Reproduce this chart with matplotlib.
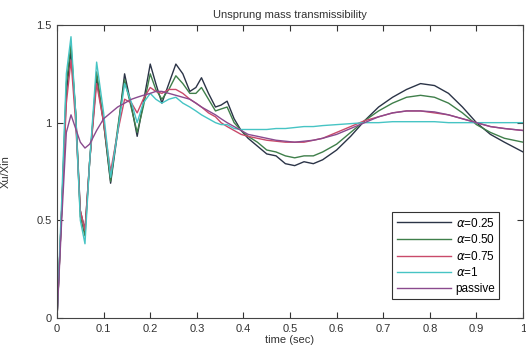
import numpy as np
import matplotlib.pyplot as plt

plt.rcParams['font.family'] = ['Liberation Sans', 'DejaVu Sans']

# time samples
t = [0, 0.01, 0.02, 0.03, 0.04, 0.05, 0.06, 0.07, 0.085, 0.1,
     0.115, 0.13, 0.145, 0.16, 0.172, 0.185, 0.2, 0.212, 0.225, 0.24,
     0.255, 0.27, 0.285, 0.298, 0.31, 0.325, 0.34, 0.352, 0.365, 0.38,
     0.395, 0.41, 0.43, 0.45, 0.47, 0.49, 0.51, 0.53, 0.55, 0.57,
     0.6, 0.63, 0.66, 0.69, 0.72, 0.75, 0.78, 0.81, 0.84, 0.87,
     0.9, 0.93, 0.96, 1.0]

# Xu/Xin for each case
a025 = [0, 0.55, 1.15, 1.37, 1.05, 0.55, 0.45, 0.8, 1.23, 1.0,
        0.69, 0.95, 1.25, 1.08, 0.93, 1.1, 1.3, 1.2, 1.1, 1.2,
        1.3, 1.25, 1.16, 1.18, 1.23, 1.15, 1.08, 1.09, 1.11, 1.02,
        0.96, 0.92, 0.88, 0.84, 0.83, 0.79, 0.78, 0.8, 0.79, 0.81,
        0.86, 0.93, 1.01, 1.08, 1.13, 1.17, 1.2, 1.19, 1.15, 1.08,
        1.0, 0.94, 0.9, 0.85]
a050 = [0, 0.55, 1.2, 1.40, 1.05, 0.52, 0.42, 0.8, 1.26, 1.0,
        0.7, 0.97, 1.22, 1.07, 0.95, 1.08, 1.25, 1.17, 1.12, 1.17,
        1.24, 1.2, 1.15, 1.15, 1.18, 1.12, 1.06, 1.07, 1.08, 1.0,
        0.96, 0.93, 0.9, 0.86, 0.85, 0.83, 0.82, 0.83, 0.83, 0.85,
        0.89, 0.95, 1.01, 1.06, 1.1, 1.13, 1.14, 1.13, 1.1, 1.05,
        0.99, 0.95, 0.92, 0.9]
a075 = [0, 0.55, 1.1, 1.32, 1.0, 0.55, 0.45, 0.8, 1.2, 1.0,
        0.75, 0.95, 1.12, 1.1, 1.05, 1.12, 1.18, 1.16, 1.15, 1.17,
        1.17, 1.15, 1.12, 1.1, 1.08, 1.05, 1.03, 1.0, 0.98, 0.96,
        0.94, 0.93, 0.92, 0.91, 0.905, 0.9, 0.9, 0.9, 0.91, 0.92,
        0.95, 0.98, 1.01, 1.03, 1.05, 1.06, 1.06, 1.05, 1.04, 1.02,
        1.0, 0.98, 0.97, 0.96]
a100 = [0, 0.6, 1.25, 1.44, 1.05, 0.5, 0.38, 0.8, 1.31, 1.05,
        0.72, 0.95, 1.2, 1.1, 1.0, 1.1, 1.15, 1.12, 1.1, 1.12,
        1.13, 1.1, 1.08, 1.06, 1.04, 1.02, 1.0, 0.99, 0.99, 0.97,
        0.965, 0.965, 0.965, 0.965, 0.97, 0.97, 0.975, 0.98, 0.98, 0.985,
        0.99, 0.995, 1.0, 1.0, 1.005, 1.005, 1.005, 1.005, 1.0, 1.0,
        1.0, 1.0, 1.0, 1.0]
passive = [0, 0.5, 0.95, 1.04, 0.97, 0.9, 0.87, 0.89, 0.96, 1.02,
           1.05, 1.08, 1.1, 1.12, 1.13, 1.14, 1.15, 1.16, 1.16, 1.15,
           1.14, 1.13, 1.12, 1.1, 1.08, 1.06, 1.04, 1.02, 1.0, 0.98,
           0.96, 0.94, 0.93, 0.92, 0.91, 0.905, 0.9, 0.905, 0.91, 0.92,
           0.94, 0.97, 1.0, 1.03, 1.05, 1.06, 1.06, 1.055, 1.04, 1.02,
           1.0, 0.98, 0.97, 0.96]

labels = [r'$\alpha$=0.25', r'$\alpha$=0.50', r'$\alpha$=0.75', r'$\alpha$=1', 'passive']
colors = ['#2b3447', '#3f7f4a', '#c94a6a', '#46c4c4', '#8a4a8e']

fig = plt.figure(figsize=(5.26, 3.52), dpi=100)
ax = fig.add_axes([0.1084, 0.0966, 0.886, 0.8324])

series = [a025, a050, a075, a100, passive]
for y, lab, c in zip(series, labels, colors):
    ax.plot(t, y, color=c, lw=1.0, label=lab)

ax.set_xlim(0, 1)
ax.set_ylim(0, 1.5)
ax.set_xticks(np.arange(0, 1.01, 0.1))
ax.set_xticklabels(['0', '0.1', '0.2', '0.3', '0.4', '0.5', '0.6', '0.7', '0.8', '0.9', '1'])
ax.set_yticks([0, 0.5, 1, 1.5])
ax.set_yticklabels(['0', '0.5', '1', '1.5'])
ax.tick_params(direction='in', length=4, labelsize=8, colors='#333333',
               top=True, right=True, pad=4)
for s in ax.spines.values():
    s.set_color('#444444')
    s.set_linewidth(0.8)

ax.set_title('Unsprung mass transmissibility', fontsize=8, color='#333333', pad=5)
ax.set_xlabel('time (sec)', fontsize=8, color='#333333', labelpad=1)
ax.set_ylabel('Xu/Xin', fontsize=8, color='#333333', labelpad=18)

leg = ax.legend(loc='lower right', bbox_to_anchor=(0.962, 0.045), fontsize=8.5,
                fancybox=False, framealpha=1, edgecolor='#333333',
                handlelength=4.6, handletextpad=0.4, borderpad=0.35,
                labelspacing=0.3)
leg.get_frame().set_linewidth(0.8)

fig.savefig('out.png', dpi=100)
